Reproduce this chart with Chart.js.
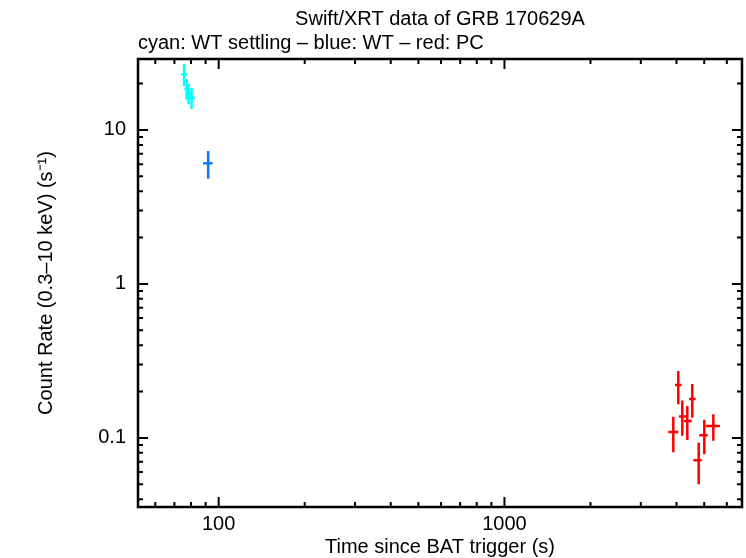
<!DOCTYPE html>
<html>
<head>
<meta charset="utf-8">
<script src="https://cdn.jsdelivr.net/npm/chart.js@4/dist/chart.umd.min.js"></script>
<style>
  html, body { margin: 0; padding: 0; background: #fff; }
  #wrap { width: 746px; height: 558px; }
</style>
</head>
<body>
<div id="wrap"><canvas id="lc"></canvas></div>
<script>
// WT settling (cyan)
const settlingTime   = [75.7, 77.3, 78.5, 80.4];
const settlingTimeLo = [73.8, 75.8, 76.9, 78.6];
const settlingTimeHi = [77.4, 78.9, 80.3, 82.5];
const settlingRate   = [23.0, 18.5, 17.1, 16.1];
const settlingRateLo = [19.3, 15.7, 14.7, 13.7];
const settlingRateHi = [26.8, 21.4, 19.9, 18.7];

// WT (blue)
const wtTime   = [91.9];
const wtTimeLo = [88.3];
const wtTimeHi = [95.2];
const wtRate   = [6.08];
const wtRateLo = [4.83];
const wtRateHi = [7.30];

// PC (red)
const pcTime   = [3898, 4058, 4191, 4363, 4542, 4783, 5004, 5381];
const pcTimeLo = [3744, 3951, 4080, 4249, 4423, 4579, 4806, 5061];
const pcTimeHi = [4058, 4171, 4318, 4520, 4669, 4899, 5143, 5680];
const pcRate   = [0.1094, 0.221, 0.138, 0.129, 0.179, 0.0717, 0.104, 0.1197];
const pcRateLo = [0.0807, 0.1655, 0.1035, 0.097, 0.1354, 0.050, 0.0784, 0.0957];
const pcRateHi = [0.1375, 0.272, 0.175, 0.161, 0.224, 0.0932, 0.131, 0.1425];

const xTickValues = [100, 1000];
const yTickValues = [0.1, 1, 10];

const FONT = '"Liberation Sans", Arial, sans-serif';

function pts(t, r) {
  return t.map((v, i) => ({ x: v, y: r[i] }));
}

const errorBars = {
  id: 'errorBars',
  afterDatasetsDraw(chart) {
    const ctx = chart.ctx;
    const xs = chart.scales.x, ys = chart.scales.y;
    ctx.save();
    chart.data.datasets.forEach(ds => {
      const e = ds.err;
      ctx.strokeStyle = ds.borderColor;
      ctx.lineWidth = 2.5;
      ds.data.forEach((p, i) => {
        const px = xs.getPixelForValue(p.x), py = ys.getPixelForValue(p.y);
        ctx.beginPath();
        ctx.moveTo(px, ys.getPixelForValue(e.yLo[i]));
        ctx.lineTo(px, ys.getPixelForValue(e.yHi[i]));
        ctx.moveTo(xs.getPixelForValue(e.xLo[i]), py);
        ctx.lineTo(xs.getPixelForValue(e.xHi[i]), py);
        ctx.stroke();
      });
    });
    ctx.restore();
  }
};

function minorValues(min, max) {
  const out = [];
  for (let d = Math.floor(Math.log10(min)); d <= Math.ceil(Math.log10(max)); d++) {
    for (let k = 1; k < 10; k++) {
      const v = k * Math.pow(10, d);
      if (v >= min && v <= max) out.push({ v: v, major: k === 1 });
    }
  }
  return out;
}

const frame = {
  id: 'frame',
  afterDraw(chart) {
    const ctx = chart.ctx, a = chart.chartArea;
    const xs = chart.scales.x, ys = chart.scales.y;
    ctx.save();
    ctx.strokeStyle = '#000';
    ctx.lineWidth = 2;
    ctx.beginPath();
    minorValues(xs.min, xs.max).forEach(t => {
      const px = xs.getPixelForValue(t.v), len = t.major ? 10 : 5;
      ctx.moveTo(px, a.bottom); ctx.lineTo(px, a.bottom - len);
      ctx.moveTo(px, a.top); ctx.lineTo(px, a.top + len);
    });
    minorValues(ys.min, ys.max).forEach(t => {
      const py = ys.getPixelForValue(t.v), len = t.major ? 10 : 5;
      ctx.moveTo(a.left, py); ctx.lineTo(a.left + len, py);
      ctx.moveTo(a.right, py); ctx.lineTo(a.right - len, py);
    });
    ctx.stroke();
    ctx.lineWidth = 2.5;
    ctx.strokeRect(a.left, a.top, a.right - a.left, a.bottom - a.top);

    ctx.fillStyle = '#000';
    ctx.font = '20px ' + FONT;
    ctx.textBaseline = 'middle';
    ctx.textAlign = 'center';
    ctx.fillText('Swift/XRT data of GRB 170629A', (a.left + a.right) / 2, 19);
    ctx.fillText('Time since BAT trigger (s)', (a.left + a.right) / 2, 547);
    ctx.textAlign = 'left';
    ctx.fillText('cyan: WT settling \u2013 blue: WT \u2013 red: PC', a.left, 43);
    ctx.translate(46, (a.top + a.bottom) / 2);
    ctx.rotate(-Math.PI / 2);
    ctx.textAlign = 'center';
    ctx.fillText('Count Rate (0.3\u201310 keV) (s\u207B\u00B9)', 0, 0);
    ctx.restore();
  }
};

new Chart(document.getElementById('lc'), {
  type: 'scatter',
  data: {
    datasets: [
      {
        label: 'WT settling',
        data: pts(settlingTime, settlingRate),
        borderColor: '#00ffff',
        err: { xLo: settlingTimeLo, xHi: settlingTimeHi, yLo: settlingRateLo, yHi: settlingRateHi }
      },
      {
        label: 'WT',
        data: pts(wtTime, wtRate),
        borderColor: '#0a78ff',
        err: { xLo: wtTimeLo, xHi: wtTimeHi, yLo: wtRateLo, yHi: wtRateHi }
      },
      {
        label: 'PC',
        data: pts(pcTime, pcRate),
        borderColor: '#ff0000',
        err: { xLo: pcTimeLo, xHi: pcTimeHi, yLo: pcRateLo, yHi: pcRateHi }
      }
    ]
  },
  options: {
    responsive: true,
    maintainAspectRatio: false,
    animation: false,
    devicePixelRatio: 1,
    layout: { padding: { left: 0, top: 59, right: 4, bottom: 0 } },
    elements: { point: { radius: 0, hoverRadius: 0 } },
    plugins: { legend: { display: false }, tooltip: { enabled: false } },
    scales: {
      x: {
        type: 'logarithmic',
        min: 52.2,
        max: 6780,
        grid: { display: false, drawTicks: false, tickLength: 0 },
        border: { display: false },
        afterBuildTicks: s => { s.ticks = xTickValues.map(v => ({ value: v })); },
        afterFit: s => { s.height = 51; },
        ticks: {
          autoSkip: false,
          maxRotation: 0,
          padding: 5,
          color: '#000',
          font: { family: FONT, size: 20 },
          callback: v => String(v)
        }
      },
      y: {
        type: 'logarithmic',
        min: 0.0356,
        max: 28.9,
        grid: { display: false, drawTicks: false, tickLength: 0 },
        border: { display: false },
        afterBuildTicks: s => { s.ticks = yTickValues.map(v => ({ value: v })); },
        afterFit: s => { s.width = 138; },
        ticks: {
          autoSkip: false,
          padding: 12,
          color: '#000',
          font: { family: FONT, size: 20 },
          callback: v => String(v)
        }
      }
    }
  },
  plugins: [errorBars, frame]
});
</script>
</body>
</html>
